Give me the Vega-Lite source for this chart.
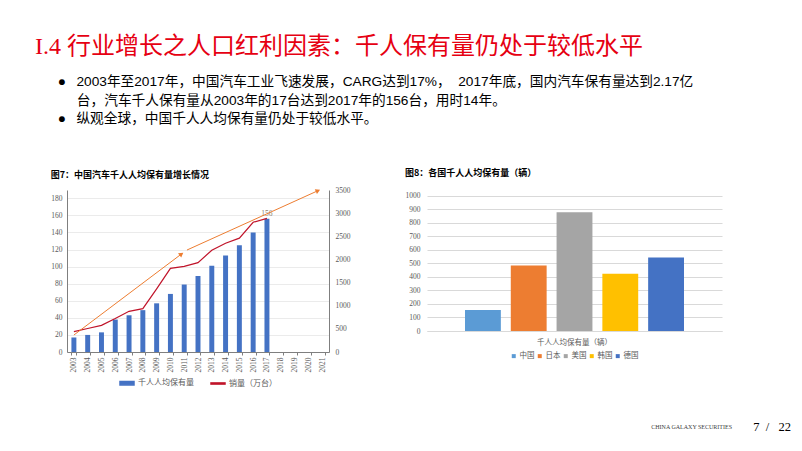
{
  "$schema": "https://vega.github.io/schema/vega-lite/v6.json",
  "background": "white",
  "padding": {"left": 35, "top": 35, "right": 5, "bottom": 5},
  "title": {
    "text": "I.4 行业增长之人口红利因素：千人保有量仍处于较低水平",
    "subtitle": [
      "\u200b\u00a0\u00a0\u00a0\u00a0\u00a0\u00a0●\u00a0\u00a0\u20092003年至2017年，中国汽车工业飞速发展，CARG达到17%，\u00a0\u00a02017年底，国内汽车保有量达到2.17亿",
      "\u200b\u00a0\u00a0\u00a0\u00a0\u00a0\u00a0\u00a0\u00a0\u00a0\u00a0\u00a0台，汽车千人保有量从2003年的17台达到2017年的156台，用时14年。",
      "\u200b\u00a0\u00a0\u00a0\u00a0\u00a0\u00a0●\u00a0\u00a0\u2009纵观全球，中国千人人均保有量仍处于较低水平。"
    ],
    "anchor": "start",
    "frame": "group",
    "dx": -32,
    "font": "Liberation Serif, Noto Sans CJK SC",
    "fontSize": 24,
    "fontWeight": "normal",
    "color": "#E60012",
    "subtitleFont": "Liberation Sans, Noto Sans CJK SC",
    "subtitleFontSize": 13.7,
    "subtitleColor": "#000000",
    "subtitleLineHeight": 18.5,
    "subtitlePadding": 16,
    "offset": 43
  },
  "datasets": {
    "china": [
      {"year": "2003", "holding": 17, "sales": 439},
      {"year": "2004", "holding": 20, "sales": 507},
      {"year": "2005", "holding": 23, "sales": 576},
      {"year": "2006", "holding": 38, "sales": 722},
      {"year": "2007", "holding": 43, "sales": 879},
      {"year": "2008", "holding": 49, "sales": 938},
      {"year": "2009", "holding": 57, "sales": 1364},
      {"year": "2010", "holding": 68, "sales": 1806},
      {"year": "2011", "holding": 79, "sales": 1851},
      {"year": "2012", "holding": 89, "sales": 1931},
      {"year": "2013", "holding": 101, "sales": 2198},
      {"year": "2014", "holding": 113, "sales": 2349},
      {"year": "2015", "holding": 125, "sales": 2460},
      {"year": "2016", "holding": 140, "sales": 2803},
      {"year": "2017", "holding": 156, "sales": 2888},
      {"year": "2018", "holding": null, "sales": null},
      {"year": "2019", "holding": null, "sales": null},
      {"year": "2020", "holding": null, "sales": null},
      {"year": "2021", "holding": null, "sales": null}
    ],
    "arrows": [
      {"seg": "a", "x": 2003, "v": 367},
      {"seg": "a", "x": 2010.8, "v": 2117},
      {"seg": "b", "x": 2011.2, "v": 2203},
      {"seg": "b", "x": 2020.7, "v": 3485}
    ],
    "heads": [
      {"seg": "a", "x": 2010.8, "v": 2117},
      {"seg": "b", "x": 2020.7, "v": 3485}
    ],
    "countries": [
      {"item": "千人人均保有量（辆）", "country": "中国", "value": 156},
      {"item": "千人人均保有量（辆）", "country": "日本", "value": 484},
      {"item": "千人人均保有量（辆）", "country": "美国", "value": 878},
      {"item": "千人人均保有量（辆）", "country": "韩国", "value": 424},
      {"item": "千人人均保有量（辆）", "country": "德国", "value": 543}
    ],
    "footer": [
      {"brand": "CHINA GALAXY SECURITIES", "page": "7\u00a0\u00a0/\u00a0\u00a0\u00a022"}
    ]
  },
  "spacing": 33,
  "vconcat": [
    {
      "spacing": 55,
      "resolve": {"scale": {"color": "independent"}, "legend": {"color": "independent"}},
      "hconcat": [
        {
          "width": 262,
          "height": 162,
          "title": {
            "text": "图7：中国汽车千人人均保有量增长情况",
            "anchor": "start",
            "frame": "bounds",
            "font": "Noto Sans CJK SC",
            "fontSize": 9,
            "fontWeight": "bold",
            "color": "#000000",
            "offset": 6
          },
          "layer": [
            {
              "data": {"name": "china"},
              "mark": {"type": "bar"},
              "encoding": {
                "x": {
                  "field": "year", "type": "ordinal",
                  "scale": {"domain": ["2003","2004","2005","2006","2007","2008","2009","2010","2011","2012","2013","2014","2015","2016","2017","2018","2019","2020","2021"], "paddingInner": 0.64, "paddingOuter": 0.32},
                  "axis": {"title": null, "labelAngle": 270, "labelFont": "Liberation Serif", "labelFontSize": 7.5, "labelColor": "#595959", "domainColor": "#7F7F7F", "tickColor": "#7F7F7F", "tickBand": "extent", "tickSize": 3, "labelPadding": 2, "grid": false}
                },
                "y": {
                  "field": "holding", "type": "quantitative",
                  "scale": {"domain": [0, 189.7], "nice": false},
                  "axis": {"title": null, "values": [0,20,40,60,80,100,120,140,160,180], "format": "d", "labelFont": "Liberation Serif", "labelFontSize": 7.5, "labelColor": "#595959", "domainColor": "#7F7F7F", "ticks": false, "grid": true, "gridColor": "#EBEBEB", "labelPadding": 5}
                },
                "color": {
                  "datum": "千人人均保有量", "type": "nominal",
                  "scale": {"domain": ["千人人均保有量", "销量（万台）"], "range": ["#4472C4", "#C0142A"]},
                  "legend": {
                    "orient": "bottom", "title": null, "direction": "horizontal",
                    "symbolType": "M-1,-0.25H1V0.25H-1Z", "symbolSize": 196,
                    "labelFont": "Noto Sans CJK SC", "labelFontSize": 8, "labelColor": "#595959",
                    "columnPadding": 14, "labelOffset": 3, "offset": 3,
                    "encode": {"symbols": {"update": {
                      "shape": [{"test": "datum.value === '销量（万台）'", "value": "M-1,-0.08H1V0.08H-1Z"}, {"value": "M-1,-0.25H1V0.25H-1Z"}],
                      "fill": {"scale": "color", "field": "value"},
                      "stroke": {"value": "transparent"},
                      "opacity": {"value": 1}
                    }}}
                  }
                }
              }
            },
            {
              "data": {"name": "china"},
              "transform": [{"filter": "datum.year === '2017'"}],
              "mark": {"type": "text", "dy": -5, "font": "Liberation Serif", "fontSize": 7.5, "color": "#8C8070"},
              "encoding": {
                "x": {"field": "year", "type": "ordinal", "scale": {"domain": ["2003","2004","2005","2006","2007","2008","2009","2010","2011","2012","2013","2014","2015","2016","2017","2018","2019","2020","2021"], "paddingInner": 0.64, "paddingOuter": 0.32}, "axis": null},
                "y": {"field": "holding", "type": "quantitative", "scale": {"domain": [0, 189.7], "nice": false}, "axis": null},
                "text": {"field": "holding", "type": "quantitative"}
              }
            },
            {
              "data": {"name": "china"},
              "mark": {"type": "line", "strokeWidth": 1.2},
              "encoding": {
                "x": {"field": "year", "type": "ordinal", "scale": {"domain": ["2003","2004","2005","2006","2007","2008","2009","2010","2011","2012","2013","2014","2015","2016","2017","2018","2019","2020","2021"], "paddingInner": 0.64, "paddingOuter": 0.32}, "axis": null},
                "y": {
                  "field": "sales", "type": "quantitative",
                  "scale": {"domain": [0, 3500], "nice": false},
                  "axis": {"orient": "right", "title": null, "values": [0,500,1000,1500,2000,2500,3000,3500], "format": "d", "labelFont": "Liberation Serif", "labelFontSize": 7.5, "labelColor": "#595959", "domainColor": "#7F7F7F", "ticks": false, "grid": false, "labelPadding": 6}
                },
                "color": {"datum": "销量（万台）", "type": "nominal"}
              }
            },
            {
              "data": {"name": "arrows"},
              "mark": {"type": "line", "color": "#ED7D31", "strokeWidth": 1},
              "encoding": {
                "x": {"field": "x", "type": "quantitative", "scale": {"domain": [2002.5, 2021.5], "nice": false, "zero": false}, "axis": null},
                "y": {"field": "v", "type": "quantitative", "scale": {"domain": [0, 3500], "nice": false}, "axis": null},
                "detail": {"field": "seg", "type": "nominal"}
              }
            },
            {
              "data": {"name": "heads"},
              "mark": {"type": "point", "shape": "triangle-right", "filled": true, "color": "#ED7D31", "size": 28, "opacity": 1},
              "encoding": {
                "x": {"field": "x", "type": "quantitative", "scale": {"domain": [2002.5, 2021.5], "nice": false, "zero": false}, "axis": null},
                "y": {"field": "v", "type": "quantitative", "scale": {"domain": [0, 3500], "nice": false}, "axis": null},
                "angle": {"condition": {"test": "datum.seg === 'a'", "value": 323}, "value": 336}
              }
            }
          ],
          "resolve": {"scale": {"x": "independent", "y": "independent"}}
        },
        {
          "width": 295,
          "height": 141,
          "title": {
            "text": "图8：各国千人人均保有量（辆）",
            "anchor": "start",
            "frame": "bounds",
            "font": "Noto Sans CJK SC",
            "fontSize": 9,
            "fontWeight": "bold",
            "color": "#000000",
            "offset": 12
          },
          "data": {"name": "countries"},
          "mark": {"type": "bar"},
          "encoding": {
            "x": {
              "field": "item", "type": "nominal",
              "scale": {"paddingInner": 0, "paddingOuter": 0.1735},
              "axis": {"title": null, "labelAngle": 0, "labelFont": "Noto Sans CJK SC", "labelFontSize": 7.5, "labelColor": "#595959", "domainColor": "#D9D9D9", "ticks": false, "labelPadding": 7.5}
            },
            "xOffset": {
              "field": "country", "type": "nominal", "sort": ["中国", "日本", "美国", "韩国", "德国"],
              "scale": {"paddingInner": 0.217, "paddingOuter": 0}
            },
            "y": {
              "field": "value", "type": "quantitative",
              "scale": {"domain": [0, 1042], "nice": false},
              "axis": {"title": null, "values": [0,100,200,300,400,500,600,700,800,900,1000], "format": "d", "domain": false, "ticks": false, "grid": true, "gridColor": "#D9D9D9", "labelFont": "Liberation Serif", "labelFontSize": 7.5, "labelColor": "#595959", "labelPadding": 7}
            },
            "color": {
              "field": "country", "type": "nominal", "sort": ["中国", "日本", "美国", "韩国", "德国"],
              "scale": {"domain": ["中国", "日本", "美国", "韩国", "德国"], "range": ["#5B9BD5", "#ED7D31", "#A5A5A5", "#FFC000", "#4472C4"]},
              "legend": {"orient": "bottom", "title": null, "direction": "horizontal", "symbolType": "square", "symbolSize": 16, "labelFont": "Noto Sans CJK SC", "labelFontSize": 7.5, "labelColor": "#595959", "columnPadding": 1, "labelOffset": 2, "offset": 6}
            }
          }
        }
      ]
    },
    {
      "width": 724,
      "height": 10,
      "data": {"name": "footer"},
      "layer": [
        {
          "mark": {"type": "text", "align": "right", "baseline": "middle", "dx": -59, "font": "Liberation Serif", "fontSize": 6, "color": "#404040"},
          "encoding": {
            "x": {"field": "page", "type": "nominal", "scale": {"type": "point", "padding": 0, "align": 1}, "axis": null},
            "text": {"field": "brand"}
          }
        },
        {
          "mark": {"type": "text", "align": "right", "baseline": "middle", "font": "Liberation Serif", "fontSize": 12.5, "color": "#000000"},
          "encoding": {
            "x": {"field": "page", "type": "nominal", "axis": null},
            "text": {"field": "page"}
          }
        }
      ]
    }
  ],
  "config": {
    "view": {"stroke": null},
    "font": "Noto Sans CJK SC",
    "legend": {"layout": {"bottom": {"anchor": "middle"}}}
  }
}
